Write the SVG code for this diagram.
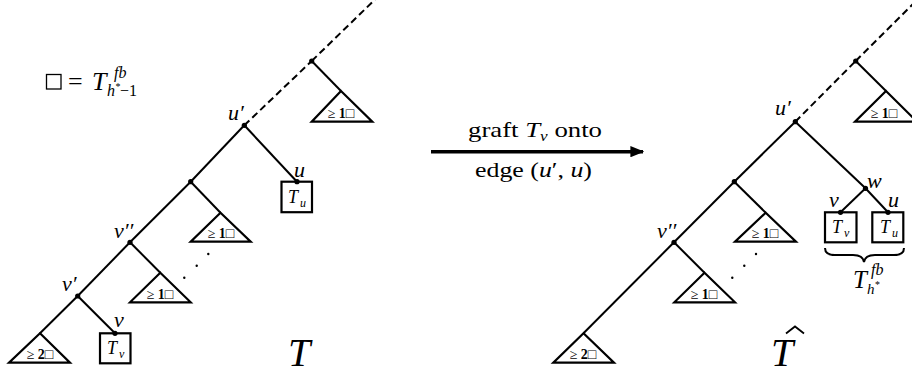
<svg xmlns="http://www.w3.org/2000/svg" width="912" height="375" viewBox="0 0 912 375">
<defs>
<style>
.e{stroke:#000;stroke-width:2;fill:none}
.d{stroke:#000;stroke-width:2;fill:none;stroke-dasharray:7 4}
.tri{stroke:#000;stroke-width:2.2;fill:#fff;stroke-linejoin:miter}
.box{stroke:#000;stroke-width:2.2;fill:#fff}
.m{font-family:"Liberation Serif","DejaVu Serif",serif;font-style:italic;fill:#000}
.r{font-family:"Liberation Serif","DejaVu Serif",serif;fill:#000}
.lbl{font-size:22px}
.tl{font-family:"Liberation Serif","DejaVu Serif",serif;font-size:14px;fill:#000;text-anchor:middle}
.bx{font-size:18px;text-anchor:middle}
.sub{font-size:12px}
</style>
<marker id="ah" viewBox="0 0 10 8" refX="9" refY="4" markerWidth="4" markerHeight="3.2" markerUnits="strokeWidth" orient="auto">
<path d="M0,0 L10,4 L0,8 Z" fill="#000"/>
</marker>
</defs>
<rect width="912" height="375" fill="#fff"/>

<!-- legend -->
<g id="legend">
<rect x="46.5" y="74.5" width="14.5" height="14.5" fill="none" stroke="#000" stroke-width="1.3"/>
<text class="r" x="68" y="90" font-size="26">=</text>
<text class="m" x="92" y="90" font-size="26">T</text>
<text class="m" x="114" y="78" font-size="16">fb</text>
<text class="m" x="107" y="96" font-size="16">h<tspan font-size="10" dy="-6">*</tspan><tspan font-style="normal" dy="6">−1</tspan></text>
</g>

<!-- connectors -->
<g id="connectors">
<!-- left tree -->
<line class="d" x1="311.7" y1="61" x2="375" y2="-0.5"/>
<line class="d" x1="244.3" y1="125.3" x2="311.7" y2="61"/>
<line class="e" x1="311.7" y1="61" x2="341" y2="91"/>
<line class="e" x1="244.3" y1="125.3" x2="297" y2="181.7"/>
<line class="e" x1="244.3" y1="125.3" x2="190.7" y2="181.7"/>
<line class="e" x1="190.7" y1="181.7" x2="220.5" y2="212.7"/>
<line class="e" x1="190.7" y1="181.7" x2="130" y2="242.3"/>
<line class="e" x1="130" y1="242.3" x2="160.3" y2="272.7"/>
<line class="e" x1="130" y1="242.3" x2="77.7" y2="296"/>
<line class="e" x1="77.7" y1="296" x2="115" y2="333.3"/>
<line class="e" x1="77.7" y1="296" x2="40" y2="333.3"/>
<!-- arrow -->
<line x1="431" y1="151.7" x2="643" y2="151.7" stroke="#000" stroke-width="3.5" marker-end="url(#ah)"/>
<!-- right tree -->
<line class="d" x1="855.7" y1="61" x2="918" y2="-1"/>
<line class="d" x1="795.3" y1="121.7" x2="855.7" y2="61"/>
<line class="e" x1="855.7" y1="61" x2="886" y2="91"/>
<line class="e" x1="795.3" y1="121.7" x2="865.5" y2="188.3"/>
<line class="e" x1="865.5" y1="188.3" x2="840.5" y2="212.3"/>
<line class="e" x1="865.5" y1="188.3" x2="888" y2="212.3"/>
<line class="e" x1="795.3" y1="121.7" x2="734.3" y2="181.7"/>
<line class="e" x1="734.3" y1="181.7" x2="765.7" y2="212.7"/>
<line class="e" x1="734.3" y1="181.7" x2="674" y2="242.3"/>
<line class="e" x1="674" y1="242.3" x2="704.5" y2="272.7"/>
<line class="e" x1="674" y1="242.3" x2="583.5" y2="333.3"/>
<!-- brace -->
<path class="e" d="M825,248 Q825,255 835,255 L853,255 Q863,255 864,262 Q865,255 875,255 L894,255 Q904,255 904,248"/>
</g>

<!-- arrow labels -->
<g id="arrow-labels">
<text class="r" x="468" y="137" font-size="22" textLength="134" lengthAdjust="spacingAndGlyphs">graft <tspan font-style="italic">T</tspan><tspan font-style="italic" font-size="14" dy="4">v</tspan><tspan dy="-4"> onto</tspan></text>
<text class="r" x="475" y="177" font-size="22" textLength="117" lengthAdjust="spacingAndGlyphs">edge (<tspan font-style="italic">u</tspan>′, <tspan font-style="italic">u</tspan>)</text>
</g>

<!-- LEFT TREE nodes -->
<g id="L-top">
<circle cx="311.7" cy="61" r="2.6"/>
<polygon class="tri" points="341,91 311.7,121.7 372.3,121.7"/>
<text class="tl" x="341" y="118">≥ <tspan font-weight="bold">1</tspan>□</text>
</g>
<g id="L-uprime">
<circle cx="244.3" cy="125.3" r="2.6"/>
<text class="m lbl" x="228" y="120">u′</text>
</g>
<g id="L-u">
<rect class="box" x="281.5" y="181.7" width="30.5" height="30.5"/>
<circle cx="297" cy="181.7" r="2.6"/>
<text class="m lbl" x="294" y="177">u</text>
<text class="m bx" x="293" y="203">T</text><text class="m sub" x="300" y="207">u</text>
</g>
<g id="L-n2">
<circle cx="190.7" cy="181.7" r="2.6"/>
<polygon class="tri" points="220.5,212.7 190.7,241.7 250.7,241.7"/>
<text class="tl" x="221" y="238">≥ <tspan font-weight="bold">1</tspan>□</text>
</g>
<g id="L-vpp">
<circle cx="130" cy="242.3" r="2.6"/>
<polygon class="tri" points="160.3,272.7 130,302.3 190.7,302.3"/>
<text class="tl" x="160" y="298.5">≥ <tspan font-weight="bold">1</tspan>□</text>
<text class="m lbl" x="114" y="238">v′′</text>
</g>
<g id="L-dots">
<circle cx="184.3" cy="277.7" r="1.2"/>
<circle cx="196.7" cy="265.7" r="1.2"/>
<circle cx="208.3" cy="254" r="1.2"/>
</g>
<g id="L-vp">
<circle cx="77.7" cy="296" r="2.6"/>
<text class="m lbl" x="62" y="291">v′</text>
</g>
<g id="L-bottom">
<polygon class="tri" points="40,333.3 9,362.7 70,362.7"/>
<text class="tl" x="40" y="359">≥ <tspan font-weight="bold">2</tspan>□</text>
</g>
<g id="L-v">
<rect class="box" x="100" y="333.3" width="30.5" height="30"/>
<circle cx="115" cy="333.3" r="2.6"/>
<text class="m lbl" x="114" y="327">v</text>
<text class="m bx" x="112" y="354">T</text><text class="m sub" x="119" y="358">v</text>
</g>
<g id="L-T">
<text class="m" x="288" y="366" font-size="40">T</text>
</g>

<!-- RIGHT TREE nodes -->
<g id="R-top">
<circle cx="855.7" cy="61" r="2.6"/>
<polygon class="tri" points="886,91 855,121.7 917,121.7"/>
<text class="tl" x="884" y="118">≥ <tspan font-weight="bold">1</tspan>□</text>
</g>
<g id="R-uprime">
<circle cx="795.3" cy="121.7" r="2.6"/>
<text class="m lbl" x="775" y="115">u′</text>
</g>
<g id="R-w">
<circle cx="865.5" cy="188.3" r="2.6"/>
<text class="m lbl" x="867" y="188">w</text>
</g>
<g id="R-v">
<rect class="box" x="825" y="212.3" width="31.5" height="30"/>
<circle cx="840.5" cy="212.3" r="2.6"/>
<text class="m lbl" x="829" y="207">v</text>
<text class="m bx" x="837" y="233">T</text><text class="m sub" x="844" y="237">v</text>
</g>
<g id="R-u">
<rect class="box" x="872.3" y="212.3" width="31" height="30"/>
<circle cx="888" cy="212.3" r="2.6"/>
<text class="m lbl" x="888" y="207">u</text>
<text class="m bx" x="885" y="233">T</text><text class="m sub" x="892" y="237">u</text>
</g>
<g id="R-Tfb">
<text class="m" x="853" y="288" font-size="25">T</text>
<text class="m" x="871" y="275" font-size="16">fb</text>
<text class="m" x="867" y="294" font-size="15">h<tspan font-size="10" dy="-6">*</tspan></text>
</g>
<g id="R-n2">
<circle cx="734.3" cy="181.7" r="2.6"/>
<polygon class="tri" points="765.7,212.7 735,241.7 796,241.7"/>
<text class="tl" x="765" y="238">≥ <tspan font-weight="bold">1</tspan>□</text>
</g>
<g id="R-vpp">
<circle cx="674" cy="242.3" r="2.6"/>
<polygon class="tri" points="704.5,272.7 674.3,302.3 735,302.3"/>
<text class="tl" x="704" y="298.5">≥ <tspan font-weight="bold">1</tspan>□</text>
<text class="m lbl" x="657" y="238">v′′</text>
</g>
<g id="R-dots">
<circle cx="732.3" cy="277.7" r="1.2"/>
<circle cx="744.3" cy="265.7" r="1.2"/>
<circle cx="756" cy="254" r="1.2"/>
</g>
<g id="R-bottom">
<polygon class="tri" points="583.5,333.3 553.3,362.7 614,362.7"/>
<text class="tl" x="583" y="359">≥ <tspan font-weight="bold">2</tspan>□</text>
</g>
<g id="R-That">
<text class="m" x="771" y="366" font-size="40">T</text>
<path d="M786,333.5 L795,326.5 L804,333.5" fill="none" stroke="#000" stroke-width="1.8"/>
</g>
</svg>
